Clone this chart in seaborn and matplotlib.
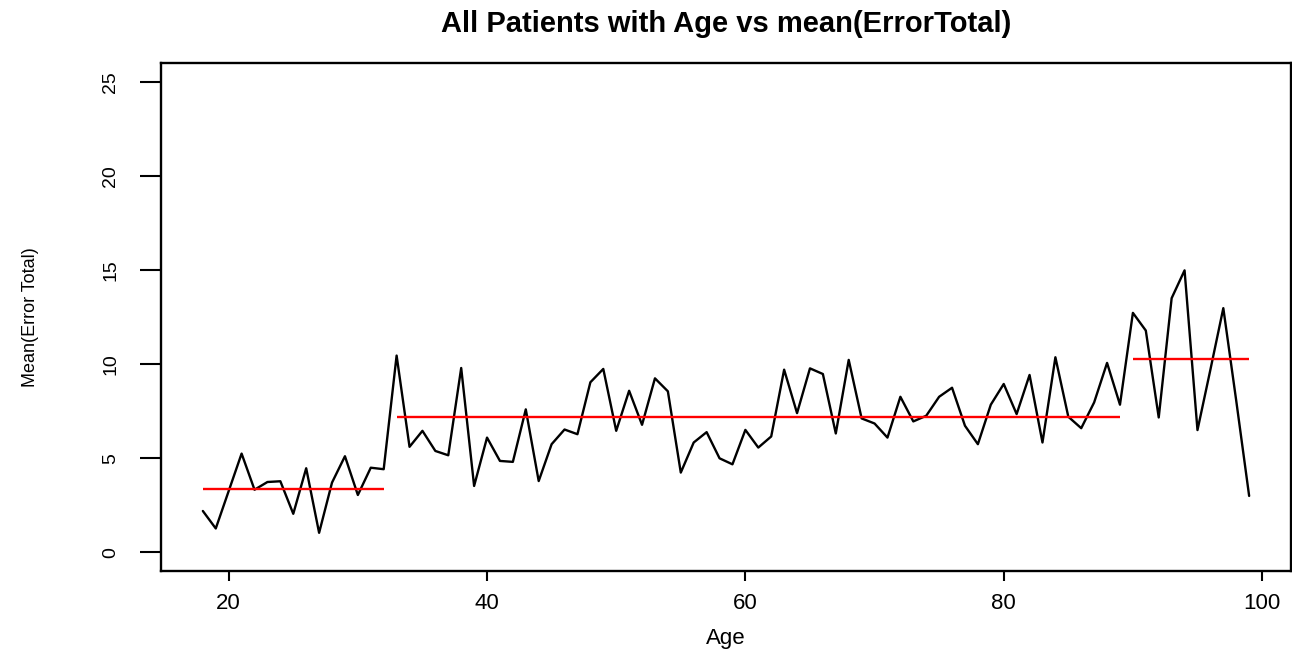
import matplotlib
matplotlib.use("Agg")
import matplotlib.pyplot as plt
import numpy as np
import pandas as pd
import seaborn as sns

# mean error per age
ages = list(range(18, 100))
mean_error = [
    2.19, 1.26, 3.25, 5.24, 3.32, 3.73, 3.77, 2.04, 4.46, 1.03,
    3.70, 5.10, 3.04, 4.49, 4.41, 10.45, 5.60, 6.45, 5.38, 5.15,
    9.79, 3.52, 6.09, 4.85, 4.80, 7.59, 3.78, 5.74, 6.52, 6.27,
    9.03, 9.74, 6.45, 8.58, 6.77, 9.24, 8.55, 4.23, 5.83, 6.38,
    4.99, 4.67, 6.50, 5.56, 6.15, 9.70, 7.39, 9.77, 9.47, 6.31,
    10.22, 7.11, 6.84, 6.09, 8.26, 6.95, 7.25, 8.26, 8.74, 6.72,
    5.74, 7.84, 8.94, 7.34, 9.42, 5.83, 10.36, 7.20, 6.59, 7.96,
    10.06, 7.84, 12.72, 11.78, 7.16, 13.50, 14.98, 6.49, 9.70, 12.97,
    8.05, 2.99,
]

# age groups and their mean level (red segments)
group_start = [18, 33, 90]
group_end = [32, 89, 99]
group_mean = [3.38, 7.16, 10.25]

x_ticks = [20, 40, 60, 80, 100]
y_ticks = [0, 5, 10, 15, 20, 25]

sns.set_style("white")
plt.rcParams['font.family'] = ['Liberation Sans', 'DejaVu Sans']
plt.rcParams['text.color'] = 'black'
plt.rcParams['axes.labelcolor'] = 'black'
plt.rcParams['xtick.color'] = 'black'
plt.rcParams['ytick.color'] = 'black'

df = pd.DataFrame({'Age': ages, 'ErrorTotal': mean_error})

fig = plt.figure(figsize=(12.92, 6.49), dpi=100)
ax = fig.add_axes([161 / 1292, 78 / 649, 1130 / 1292, 508 / 649])

sns.lineplot(data=df, x='Age', y='ErrorTotal', color='black', linewidth=1.7,
             errorbar=None, ax=ax)
ax.hlines(group_mean, group_start, group_end, colors='red', linewidth=1.7)

# R-style axis ranges (4% padding)
ax.set_xlim(14.76, 102.24)
ax.set_ylim(-1, 26)
ax.set_xticks(x_ticks)
ax.set_yticks(y_ticks)
ax.set_xticklabels([str(t) for t in x_ticks], fontsize=16)
ax.set_yticklabels([str(t) for t in y_ticks], fontsize=14, rotation=90, va='center')
ax.tick_params(axis='x', bottom=True, length=7.5, width=1.5, pad=8, color='black')
ax.tick_params(axis='y', left=True, length=15, width=1.5, pad=15, color='black')

for side in ['left', 'bottom', 'top', 'right']:
    ax.spines[side].set_visible(True)
    ax.spines[side].set_color('black')
    ax.spines[side].set_linewidth(1.7)

ax.set_xlabel('Age', fontsize=16)
ax.set_ylabel('Mean(Error Total)', fontsize=13)
ax.xaxis.set_label_coords(0.5, -0.112)
ax.yaxis.set_label_coords(-0.108, 0.5)
ax.set_title('All Patients with Age vs mean(ErrorTotal)', fontsize=21,
             fontweight='bold', pad=22)

fig.savefig('out.png', dpi=100)
